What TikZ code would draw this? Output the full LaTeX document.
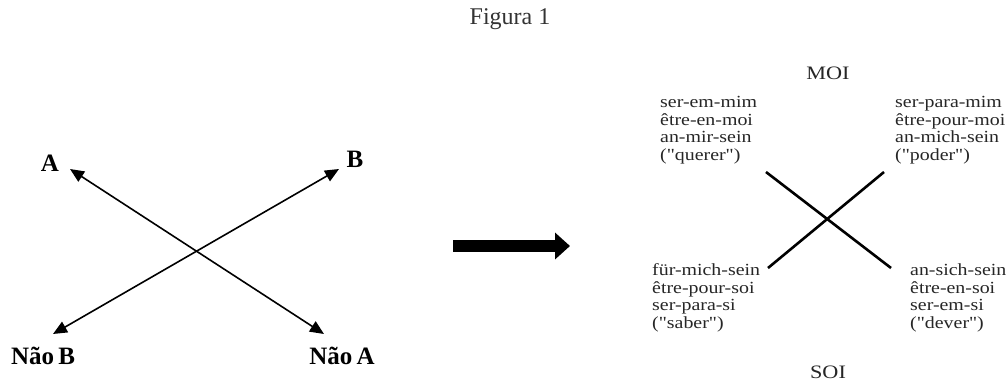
\documentclass[tikz,border=0pt]{standalone}
\usepackage{fontspec}
\setmainfont{Liberation Serif}
\newfontfamily\rfont{Liberation Serif}[FakeStretch=1.17, Ligatures=TeXOff]
\usetikzlibrary{arrows.meta}
\begin{document}
\begin{tikzpicture}[x=1pt,y=-1pt,
  lbl/.style={font=\fontsize{25}{25}\selectfont\bfseries, inner sep=0pt},
  word/.style={font=\rfont\fontsize{17}{17.5}\selectfont, align=left, inner sep=0pt, anchor=west, text=black!85},
  pole/.style={font=\rfont\fontsize{19}{19}\selectfont, inner sep=0pt, text=black!85},
  thin arrow/.style={line width=1.6pt, {Triangle[length=14pt,width=12pt]}-{Triangle[length=14pt,width=12pt]}},
  cross/.style={line width=2.6pt}
]
\useasboundingbox (0,0) rectangle (1008,383);
\node[font=\fontsize{24}{24}\selectfont, inner sep=0pt, text=black!80] (title) at (510,19) {Figura 1};

% left diagram
\node[lbl] (A) at (50,163) {A};
\node[lbl] (B) at (355,159) {B};
\node[lbl] (nB) at (43,356) {Não\,B};
\node[lbl] (nA) at (342,356) {Não\,A};
\coordinate (tA) at (70,169);
\coordinate (tB) at (339,169);
\coordinate (tnB) at (53,334);
\coordinate (tnA) at (324,334);
\draw[thin arrow] (tA) -- (tnA);
\draw[thin arrow] (tnB) -- (tB);

% big arrow
\coordinate (bs) at (453,246);
\coordinate (be) at (570,246);
\draw[line width=12pt, -{Triangle[length=15pt,width=26pt]}] (bs) -- (be);

% right diagram
\node[pole] (moi) at (828,73) {MOI};
\node[pole] (soi) at (828,372) {SOI};
\node[word] (tl) at (660,130) {ser-em-mim\\être-en-moi\\an-mir-sein\\("querer")};
\node[word] (tr) at (895,130) {ser-para-mim\\être-pour-moi\\an-mich-sein\\("poder")};
\node[word] (bl) at (652,298) {für-mich-sein\\être-pour-soi\\ser-para-si\\("saber")};
\node[word] (br) at (910,298) {an-sich-sein\\être-en-soi\\ser-em-si\\("dever")};
\coordinate (c1) at (766,172);
\coordinate (c2) at (891,268);
\coordinate (c3) at (884,172);
\coordinate (c4) at (768,268);
\draw[cross] (c1) -- (c2);
\draw[cross] (c3) -- (c4);
\end{tikzpicture}
\end{document}
